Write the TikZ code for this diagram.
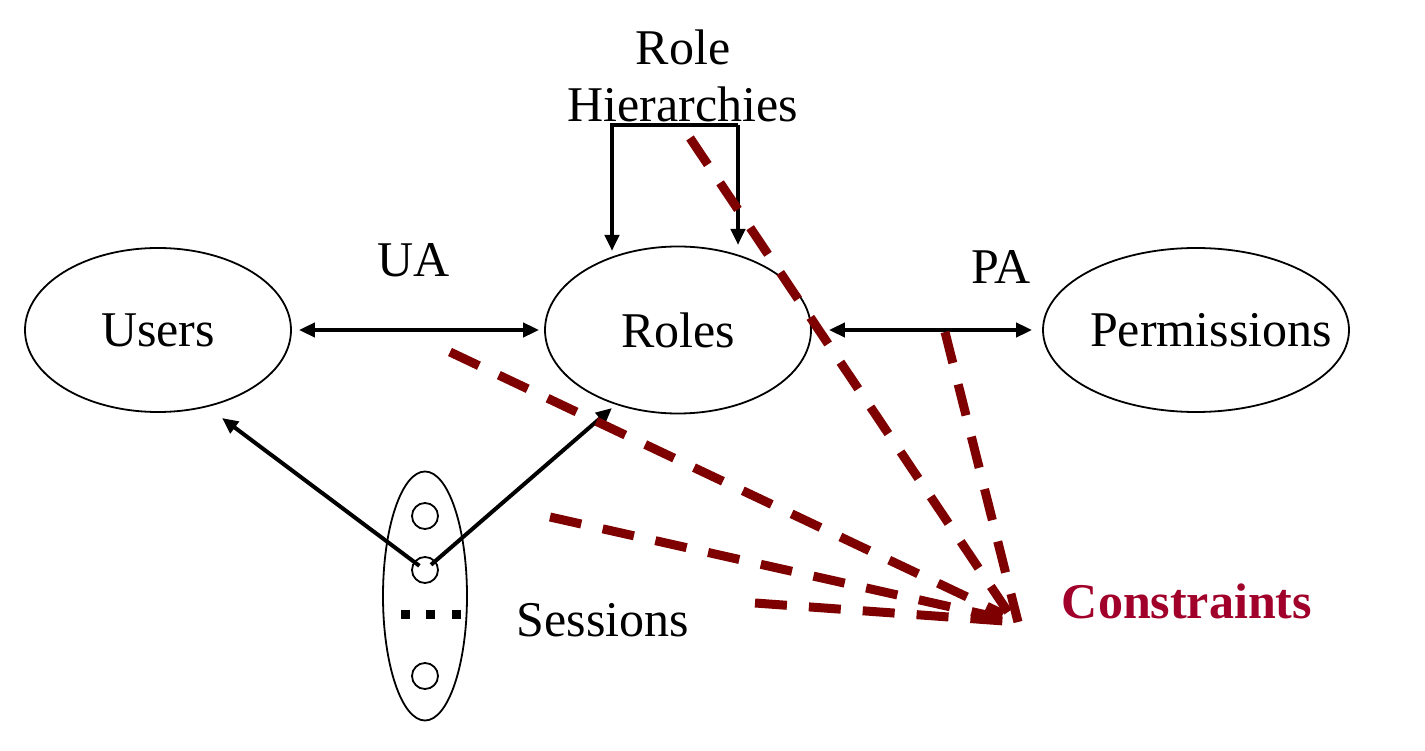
\documentclass[tikz,border=0pt]{standalone}
\usepackage{fontspec}
\setmainfont{Liberation Serif}
\usetikzlibrary{arrows.meta,shapes.geometric}
\definecolor{conred}{HTML}{7F0000}
\definecolor{contxt}{HTML}{A0002A}
\tikzset{  set/.style={draw,ellipse,line width=1.8pt,inner sep=0pt},
  rel/.style={line width=4pt},
  con/.style={conred,line width=9pt,dash pattern=on 32pt off 22pt},
  sub/.style={draw,circle,line width=1.8pt,minimum size=26pt,inner sep=0pt} }

\begin{document}
\begin{tikzpicture}[x=1pt,y=-1pt,>={Triangle[length=16pt,width=14pt]},font=\fontsize{50}{57}\selectfont]
  \useasboundingbox (0,0) rectangle (1425,751);
  \node[set,minimum width=266pt,minimum height=164pt] (users) at (158,330) {Users};
  \node[set,minimum width=266pt,minimum height=167pt] (roles) at (678,330) {Roles};
  \node[set,minimum width=306pt,minimum height=164pt,label={[xshift=15pt]center:Permissions}] (perms) at (1196,330) {};
  \node[set,minimum width=84pt,minimum height=249pt] (sess) at (425,596) {};
  \node[sub] (s1) at (425,516) {};
  \node[sub] (s2) at (425,570) {};
  \node[sub] (s3) at (425,676) {};
  \foreach \x in {405,430,456} \fill (\x-4.5,610) rectangle ++(9,9);
  \node[anchor=base] (ua) at (414,277) {UA};
  \node[anchor=base] (pa) at (1001,284) {PA};
  \node[anchor=base] (sl) at (603,636) {Sessions};
  \node[align=center,inner sep=0pt] (rh) at (683,76) {Role\\Hierarchies};
  \node[anchor=base,text=contxt,font=\fontsize{50}{57}\selectfont\bfseries] (cons) at (1187,618) {Constraints};
  \coordinate (hl) at (612,125);
  \coordinate (hr) at (738,125);
  \coordinate (ht1) at (612,251);
  \coordinate (ht2) at (738,245);
  \coordinate (ut) at (222,418);
  \coordinate (rt) at (612,408);
  \draw[rel,<->,shorten <=7pt,shorten >=5pt] (users.east) -- (roles.west);
  \draw[rel,<->,shorten <=17pt,shorten >=10pt] (roles.east) -- (perms.west);
  \draw[rel,->] (hr) -- (hl) -- (ht1);
  \draw[rel,->] (hr) -- (ht2);
  \draw[rel,->,shorten <=7pt] (s2.center) -- (ut);
  \draw[rel,->,shorten <=8pt] (s2.center) -- (rt);
  \coordinate (d1) at (690,138);
  \coordinate (d2) at (945,332);
  \coordinate (d3) at (450,352);
  \coordinate (d4) at (550,517);
  \coordinate (d5) at (755,603);
  \coordinate (e1) at (1008,612);
  \coordinate (e2) at (1018,622);
  \coordinate (e3) at (1003,614);
  \coordinate (e4) at (1000,618);
  \coordinate (e5) at (1018,622);
  \draw[con] (d1) -- (e1);
  \draw[con] (d2) -- (e2);
  \draw[con] (d3) -- (e3);
  \draw[con] (d4) -- (e4);
  \draw[con] (d5) -- (e5);
\end{tikzpicture}
\end{document}
